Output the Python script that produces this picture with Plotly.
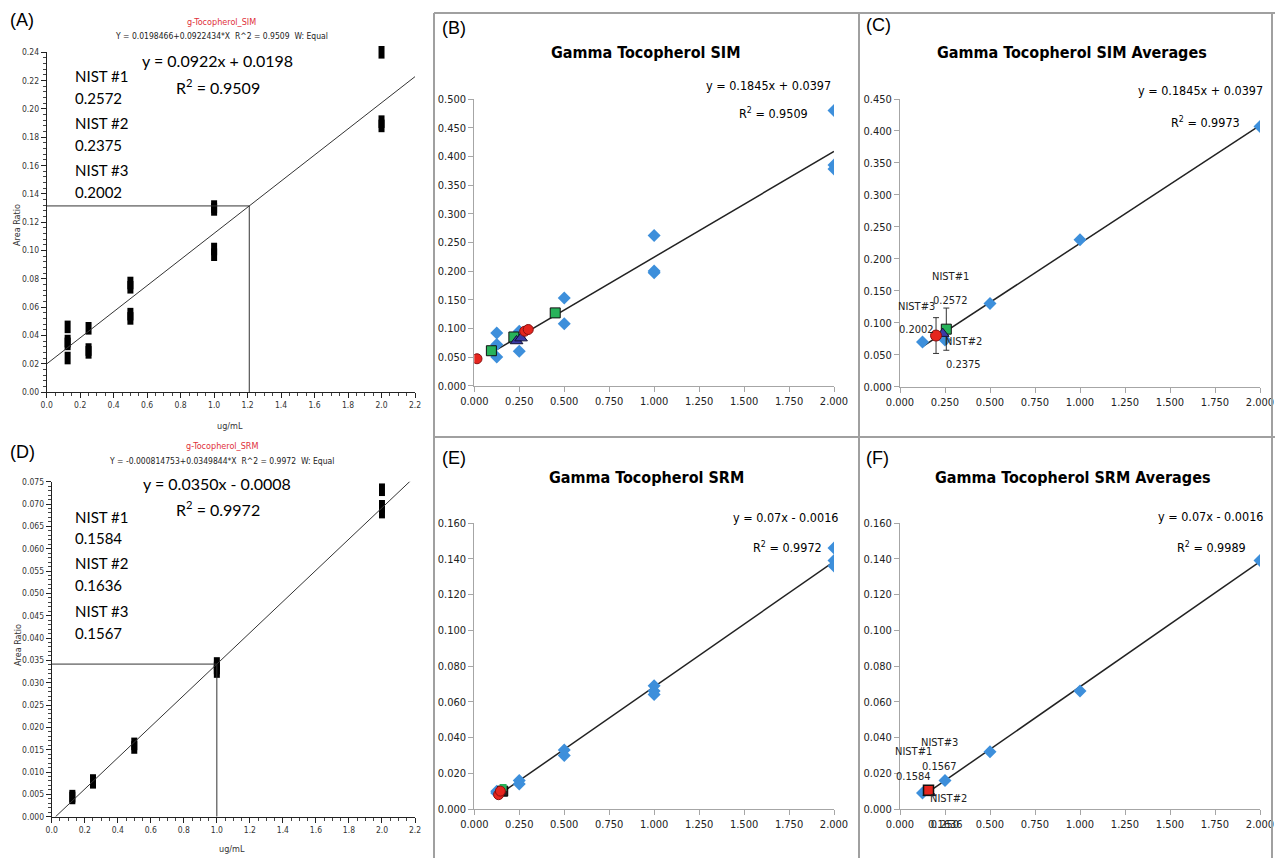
import plotly.graph_objects as go

W, H = 1275, 858
EXCEL_FONT = "Liberation Sans Narrow, DejaVu Sans Condensed, Lato, sans-serif"
CAL_FONT = "Lato, Open Sans, sans-serif"
SMALL_FONT = "Liberation Sans Narrow, DejaVu Sans Condensed, Arial, sans-serif"

BLUE = "#3D8FDB"
RED = "#E5251E"
GREEN = "#27B35A"
NAVY = "#3B3BA6"

# ---------------- Panel A data (SIM calibration, instrument software) -------------
a_x = [0.125, 0.125, 0.125, 0.125, 0.25, 0.25, 0.25, 0.5, 0.5, 0.5, 0.5, 1.0, 1.0, 1.0, 1.0, 2.0, 2.0, 2.0]
a_y = [0.046, 0.036, 0.034, 0.024, 0.045, 0.030, 0.028, 0.077, 0.074, 0.055, 0.052, 0.131, 0.129, 0.101, 0.097, 0.240, 0.191, 0.188]
a_slope, a_int = 0.0922434, 0.0198466
a_cross_x = 1.21

# ---------------- Panel D data (SRM calibration) -------------
d_x = [0.125, 0.125, 0.25, 0.25, 0.5, 0.5, 1.0, 1.0, 1.0, 2.0, 2.0, 2.0]
d_y = [0.0046, 0.0042, 0.0081, 0.0077, 0.0163, 0.0155, 0.0343, 0.0333, 0.0325, 0.0732, 0.0695, 0.0682]
d_slope, d_int = 0.0349844, -0.000814753
d_cross_x = 1.0

# ---------------- Panel B data (Excel SIM) -------------
b_x = [0.125, 0.125, 0.125, 0.25, 0.25, 0.25, 0.5, 0.5, 1.0, 1.0, 1.0, 2.0, 2.0, 2.0]
b_y = [0.092, 0.072, 0.050, 0.095, 0.085, 0.060, 0.153, 0.108, 0.262, 0.200, 0.197, 0.480, 0.385, 0.378]
b_red_x = [0.015, 0.28, 0.30]
b_red_y = [0.047, 0.095, 0.098]
b_green_x = [0.095, 0.22, 0.45]
b_green_y = [0.061, 0.085, 0.127]
b_tri_x = [0.235, 0.26]
b_tri_y = [0.078, 0.083]
b_slope, b_int = 0.1845, 0.0397

# ---------------- Panel C data (Excel SIM averages) -------------
c_x = [0.125, 0.25, 0.5, 1.0, 2.0]
c_y = [0.070, 0.073, 0.130, 0.230, 0.407]
c_nist_x = [0.2572, 0.2375, 0.2002]       # NIST#1, NIST#2, NIST#3
c_nist_y = [0.090, 0.083, 0.080]
c_nist_err = [0.033, 0.0, 0.028]
c_slope, c_int = 0.1845, 0.0397

# ---------------- Panel E data (Excel SRM) -------------
e_x = [0.125, 0.125, 0.25, 0.25, 0.5, 0.5, 1.0, 1.0, 1.0, 2.0, 2.0, 2.0]
e_y = [0.009, 0.010, 0.016, 0.014, 0.033, 0.030, 0.069, 0.066, 0.064, 0.146, 0.139, 0.136]
e_red_x = [0.135, 0.145]
e_red_y = [0.008, 0.010]
e_green_x = [0.16]
e_green_y = [0.012]
e_sq_x = [0.158]
e_sq_y = [0.010]
e_slope, e_int = 0.07, -0.0016

# ---------------- Panel F data (Excel SRM averages) -------------
f_x = [0.125, 0.25, 0.5, 1.0, 2.0]
f_y = [0.009, 0.016, 0.032, 0.066, 0.139]
f_nist_x = [0.1584, 0.1636, 0.1567]
f_nist_y = [0.0105, 0.0090, 0.0100]
f_slope, f_int = 0.07, -0.0016


def px(x):
    return x / W


def py(y):
    return 1 - y / H


fig = go.Figure()

# ---------- Panel A ----------
fig.add_trace(go.Scatter(x=a_x, y=a_y, mode="markers", xaxis="x", yaxis="y",
                         marker=dict(symbol="line-ns", size=9, line=dict(width=6, color="black")),
                         showlegend=False, cliponaxis=False))
fig.add_trace(go.Scatter(x=[0, 2.2], y=[a_int, a_int + a_slope * 2.2], mode="lines", xaxis="x", yaxis="y",
                         line=dict(color="#333333", width=1), showlegend=False))
a_cross_y = a_int + a_slope * a_cross_x
fig.add_trace(go.Scatter(x=[0, a_cross_x, a_cross_x], y=[a_cross_y, a_cross_y, 0], mode="lines",
                         xaxis="x", yaxis="y", line=dict(color="#333333", width=1), showlegend=False))

# ---------- Panel D ----------
fig.add_trace(go.Scatter(x=d_x, y=d_y, mode="markers", xaxis="x4", yaxis="y4",
                         marker=dict(symbol="line-ns", size=9, line=dict(width=6, color="black")),
                         showlegend=False, cliponaxis=False))
d_x0 = -d_int / d_slope
fig.add_trace(go.Scatter(x=[d_x0, 2.2], y=[0, d_int + d_slope * 2.2], mode="lines", xaxis="x4", yaxis="y4",
                         line=dict(color="#333333", width=1), showlegend=False))
d_cross_y = d_int + d_slope * d_cross_x
fig.add_trace(go.Scatter(x=[0, d_cross_x, d_cross_x], y=[d_cross_y, d_cross_y, 0], mode="lines",
                         xaxis="x4", yaxis="y4", line=dict(color="#333333", width=1), showlegend=False))

# ---------- Panel B ----------
fig.add_trace(go.Scatter(x=[0.125, 2.0], y=[b_int + b_slope * 0.125, b_int + b_slope * 2.0], mode="lines",
                         xaxis="x2", yaxis="y2", line=dict(color="#222222", width=1.5), showlegend=False))
fig.add_trace(go.Scatter(x=b_x, y=b_y, mode="markers", xaxis="x2", yaxis="y2",
                         marker=dict(symbol="diamond", size=10, color=BLUE), showlegend=False))
fig.add_trace(go.Scatter(x=b_green_x, y=b_green_y, mode="markers", xaxis="x2", yaxis="y2",
                         marker=dict(symbol="square", size=10, color=GREEN, line=dict(color="#111111", width=1)),
                         showlegend=False))
fig.add_trace(go.Scatter(x=b_tri_x, y=b_tri_y, mode="markers", xaxis="x2", yaxis="y2",
                         marker=dict(symbol="triangle-up", size=11, color=NAVY, line=dict(color="#111133", width=1)),
                         showlegend=False))
fig.add_trace(go.Scatter(x=b_red_x, y=b_red_y, mode="markers", xaxis="x2", yaxis="y2",
                         marker=dict(symbol="circle", size=10, color=RED, line=dict(color="#881111", width=1)),
                         showlegend=False))

# ---------- Panel C ----------
fig.add_trace(go.Scatter(x=[0.125, 2.0], y=[c_int + c_slope * 0.125, c_int + c_slope * 2.0], mode="lines",
                         xaxis="x3", yaxis="y3", line=dict(color="#222222", width=1.5), showlegend=False))
fig.add_trace(go.Scatter(x=c_x, y=c_y, mode="markers", xaxis="x3", yaxis="y3",
                         marker=dict(symbol="diamond", size=10, color=BLUE), showlegend=False))
fig.add_trace(go.Scatter(x=[c_nist_x[0]], y=[c_nist_y[0]], mode="markers", xaxis="x3", yaxis="y3",
                         error_y=dict(type="data", array=[c_nist_err[0]], color="#333333", thickness=1, width=3),
                         marker=dict(symbol="square", size=10, color=GREEN, line=dict(color="#111111", width=1)),
                         showlegend=False))
fig.add_trace(go.Scatter(x=[c_nist_x[1]], y=[c_nist_y[1]], mode="markers", xaxis="x3", yaxis="y3",
                         marker=dict(symbol="triangle-up", size=11, color=NAVY, line=dict(color="#111133", width=1)),
                         showlegend=False))
fig.add_trace(go.Scatter(x=[c_nist_x[2]], y=[c_nist_y[2]], mode="markers", xaxis="x3", yaxis="y3",
                         error_y=dict(type="data", array=[c_nist_err[2]], color="#333333", thickness=1, width=3),
                         marker=dict(symbol="circle", size=11, color=RED, line=dict(color="#881111", width=1)),
                         showlegend=False))

# ---------- Panel E ----------
fig.add_trace(go.Scatter(x=[0.125, 2.0], y=[e_int + e_slope * 0.125, e_int + e_slope * 2.0], mode="lines",
                         xaxis="x5", yaxis="y5", line=dict(color="#222222", width=1.5), showlegend=False))
fig.add_trace(go.Scatter(x=e_x, y=e_y, mode="markers", xaxis="x5", yaxis="y5",
                         marker=dict(symbol="diamond", size=10, color=BLUE), showlegend=False))
fig.add_trace(go.Scatter(x=e_sq_x, y=e_sq_y, mode="markers", xaxis="x5", yaxis="y5",
                         marker=dict(symbol="square", size=10, color="#222222", line=dict(color="#000000", width=1)),
                         showlegend=False))
fig.add_trace(go.Scatter(x=e_green_x, y=e_green_y, mode="markers", xaxis="x5", yaxis="y5",
                         marker=dict(symbol="square", size=7, color=GREEN), showlegend=False))
fig.add_trace(go.Scatter(x=e_red_x, y=e_red_y, mode="markers", xaxis="x5", yaxis="y5",
                         marker=dict(symbol="circle", size=10, color=RED, line=dict(color="#881111", width=1)),
                         showlegend=False))

# ---------- Panel F ----------
fig.add_trace(go.Scatter(x=[0.125, 2.0], y=[f_int + f_slope * 0.125, f_int + f_slope * 2.0], mode="lines",
                         xaxis="x6", yaxis="y6", line=dict(color="#222222", width=1.5), showlegend=False))
fig.add_trace(go.Scatter(x=f_x, y=f_y, mode="markers", xaxis="x6", yaxis="y6",
                         marker=dict(symbol="diamond", size=10, color=BLUE), showlegend=False))
fig.add_trace(go.Scatter(x=[f_nist_x[1]], y=[f_nist_y[1]], mode="markers", xaxis="x6", yaxis="y6",
                         marker=dict(symbol="triangle-up", size=11, color=NAVY, line=dict(color="#111133", width=1)),
                         showlegend=False))
fig.add_trace(go.Scatter(x=[f_nist_x[0]], y=[f_nist_y[0]], mode="markers", xaxis="x6", yaxis="y6",
                         marker=dict(symbol="square", size=10, color=RED, line=dict(color="#111111", width=1.5)),
                         showlegend=False))


# ---------- Axes ----------
def sw_axis(domain, rng, dtick, minor_dtick, fmt, anchor):
    return dict(domain=domain, range=rng, anchor=anchor, showgrid=False, zeroline=False, automargin=False,
                showline=True, linecolor="#222222", linewidth=1, ticks="outside", ticklen=5,
                tickcolor="#222222", dtick=dtick, tick0=0, tickformat=fmt,
                tickfont=dict(family=SMALL_FONT, size=8.5, color="#333333"),
                minor=dict(dtick=minor_dtick, ticks="outside", ticklen=3, tickcolor="#444444"))


def xl_axis(domain, rng, dtick, anchor):
    return dict(domain=domain, range=rng, anchor=anchor, showgrid=False, zeroline=False, automargin=False,
                showline=True, linecolor="#A6A6A6", linewidth=1, ticks="outside", ticklen=5,
                tickcolor="#A6A6A6", dtick=dtick, tick0=0, tickformat=".3f",
                tickfont=dict(family=EXCEL_FONT, size=11, color="#222222"))


layout = dict(
    width=W, height=H, margin=dict(l=0, r=0, t=0, b=0, pad=0, autoexpand=False),
    paper_bgcolor="white", plot_bgcolor="rgba(0,0,0,0)", showlegend=False,
    xaxis=sw_axis([px(46.7), px(415)], [0, 2.2], 0.2, 0.05, ".1f", "y"),
    yaxis=sw_axis([py(392), py(52.3)], [0, 0.24], 0.02, 0.004, ".2f", "x"),
    xaxis4=sw_axis([px(51.7), px(415)], [0, 2.2], 0.2, 0.05, ".1f", "y4"),
    yaxis4=sw_axis([py(816.7), py(481.7)], [0, 0.075], 0.005, 0.001, ".3f", "x4"),
    xaxis2=xl_axis([px(474.3), px(834)], [0, 2.0], 0.25, "y2"),
    yaxis2=xl_axis([py(385.7), py(99)], [0, 0.5], 0.05, "x2"),
    xaxis3=xl_axis([px(900), px(1260)], [0, 2.0], 0.25, "y3"),
    yaxis3=xl_axis([py(386.7), py(99)], [0, 0.45], 0.05, "x3"),
    xaxis5=xl_axis([px(474.3), px(834)], [0, 2.0], 0.25, "y5"),
    yaxis5=xl_axis([py(809), py(523)], [0, 0.16], 0.02, "x5"),
    xaxis6=xl_axis([px(900), px(1260)], [0, 2.0], 0.25, "y6"),
    yaxis6=xl_axis([py(809), py(523)], [0, 0.16], 0.02, "x6"),
)
fig.update_layout(**layout)

# ---------- Frames around Excel panels ----------
frame = dict(color="#A0A0A0", width=2)
shapes = [
    dict(type="line", xref="paper", yref="paper", x0=px(434), x1=px(1275), y0=py(13), y1=py(13), line=frame),
    dict(type="line", xref="paper", yref="paper", x0=px(434), x1=px(1275), y0=py(437), y1=py(437), line=frame),
    dict(type="line", xref="paper", yref="paper", x0=px(434), x1=px(434), y0=py(13), y1=py(858), line=frame),
    dict(type="line", xref="paper", yref="paper", x0=px(859), x1=px(859), y0=py(13), y1=py(858), line=frame),
    dict(type="line", xref="paper", yref="paper", x0=px(1272), x1=px(1272), y0=py(13), y1=py(858), line=frame),
]
fig.update_layout(shapes=shapes)

ann = []


def ptext(x, y, text, size, family, color="black", xanchor="center", bold=False, bg=None, textangle=0):
    d = dict(xref="paper", yref="paper", x=px(x), y=py(y), text=("<b>%s</b>" % text) if bold else text,
             showarrow=False, xanchor=xanchor, yanchor="middle", textangle=textangle,
             font=dict(size=size, family=family, color=color))
    if bg:
        d["bgcolor"] = bg
    ann.append(d)


def dtext(xref, yref, x, y, text, size=11, xanchor="center"):
    ann.append(dict(xref=xref, yref=yref, x=x, y=y, text=text, showarrow=False, xanchor=xanchor,
                    yanchor="middle", font=dict(size=size, family=EXCEL_FONT, color="#222222")))


# Panel labels
for lx, ly, lab in [(8, 20, "(A)"), (440, 28, "(B)"), (864, 25, "(C)"),
                    (8, 452, "(D)"), (440, 458, "(E)"), (864, 458, "(F)")]:
    ptext(lx, ly, lab, 18, "Liberation Sans, Arial, sans-serif", xanchor="left")

# Panel A texts
ptext(222, 22, "g-Tocopherol_SIM", 9, SMALL_FONT, color="#E0303A")
ptext(222, 36, "Y = 0.0198466+0.0922434*X  R^2 = 0.9509  W: Equal", 8.5, SMALL_FONT, color="#222222")
ptext(217, 61, "y = 0.0922x + 0.0198", 16, CAL_FONT)
ptext(218, 87, "R<sup>2</sup> = 0.9509", 16, CAL_FONT)
for yy, t in [(76, "NIST #1"), (98, "0.2572"), (123, "NIST #2"), (145, "0.2375"), (170, "NIST #3"), (192, "0.2002")]:
    ptext(73, yy, t, 15, CAL_FONT, xanchor="left", bg="white")
ptext(17, 225, "Area Ratio", 9, SMALL_FONT, color="#333333", textangle=-90)
ptext(230, 426, "ug/mL", 9, SMALL_FONT, color="#333333")

# Panel D texts
ptext(222, 446, "g-Tocopherol_SRM", 9, SMALL_FONT, color="#E0303A")
ptext(222, 461, "Y = -0.000814753+0.0349844*X  R^2 = 0.9972  W: Equal", 8.5, SMALL_FONT, color="#222222")
ptext(217, 483, "y = 0.0350x - 0.0008", 16, CAL_FONT)
ptext(218, 508, "R<sup>2</sup> = 0.9972", 16, CAL_FONT)
for yy, t in [(517, "NIST #1"), (538, "0.1584"), (563, "NIST #2"), (585, "0.1636"), (611, "NIST #3"), (633, "0.1567")]:
    ptext(73, yy, t, 15, CAL_FONT, xanchor="left", bg="white")
ptext(18, 645, "Area Ratio", 9, SMALL_FONT, color="#333333", textangle=-90)
ptext(232, 849, "ug/mL", 9, SMALL_FONT, color="#333333")

# Excel titles and equations
TS = 16
ptext(646, 53, "Gamma Tocopherol SIM", TS, EXCEL_FONT, bold=True)
ptext(1072, 53, "Gamma Tocopherol SIM Averages", TS, EXCEL_FONT, bold=True)
ptext(646, 477, "Gamma Tocopherol SRM", TS, EXCEL_FONT, bold=True)
ptext(1072, 477, "Gamma Tocopherol SRM Averages", TS, EXCEL_FONT, bold=True)

ES = 12.5
ptext(833, 85, "y = 0.1845x + 0.0397", ES, EXCEL_FONT, xanchor="right")
ptext(810, 113, "R<sup>2</sup> = 0.9509", ES, EXCEL_FONT, xanchor="right")
ptext(1265, 90, "y = 0.1845x + 0.0397", ES, EXCEL_FONT, xanchor="right")
ptext(1242, 122, "R<sup>2</sup> = 0.9973", ES, EXCEL_FONT, xanchor="right")
ptext(840, 517, "y = 0.07x - 0.0016", ES, EXCEL_FONT, xanchor="right")
ptext(824, 547, "R<sup>2</sup> = 0.9972", ES, EXCEL_FONT, xanchor="right")
ptext(1265, 516, "y = 0.07x - 0.0016", ES, EXCEL_FONT, xanchor="right")
ptext(1248, 547, "R<sup>2</sup> = 0.9989", ES, EXCEL_FONT, xanchor="right")

# Panel C NIST labels
dtext("x3", "y3", 0.28, 0.172, "NIST#1")
dtext("x3", "y3", 0.28, 0.135, "0.2572")
dtext("x3", "y3", 0.094, 0.126, "NIST#3")
dtext("x3", "y3", 0.094, 0.089, "0.2002")
dtext("x3", "y3", 0.35, 0.070, "NIST#2")
dtext("x3", "y3", 0.35, 0.034, "0.2375")

# Panel F NIST labels
dtext("x6", "y6", 0.073, 0.032, "NIST#1")
dtext("x6", "y6", 0.073, 0.018, "0.1584")
dtext("x6", "y6", 0.22, 0.037, "NIST#3")
dtext("x6", "y6", 0.22, 0.0235, "0.1567")
dtext("x6", "y6", 0.27, 0.0056, "NIST#2")
ptext(945, 824, "0.1636", 11, EXCEL_FONT, color="#222222")

fig.update_layout(annotations=ann)
fig.write_html("out.html", config={"displayModeBar": False},
               post_script="document.body.style.margin='0px';document.body.style.overflow='hidden';")
